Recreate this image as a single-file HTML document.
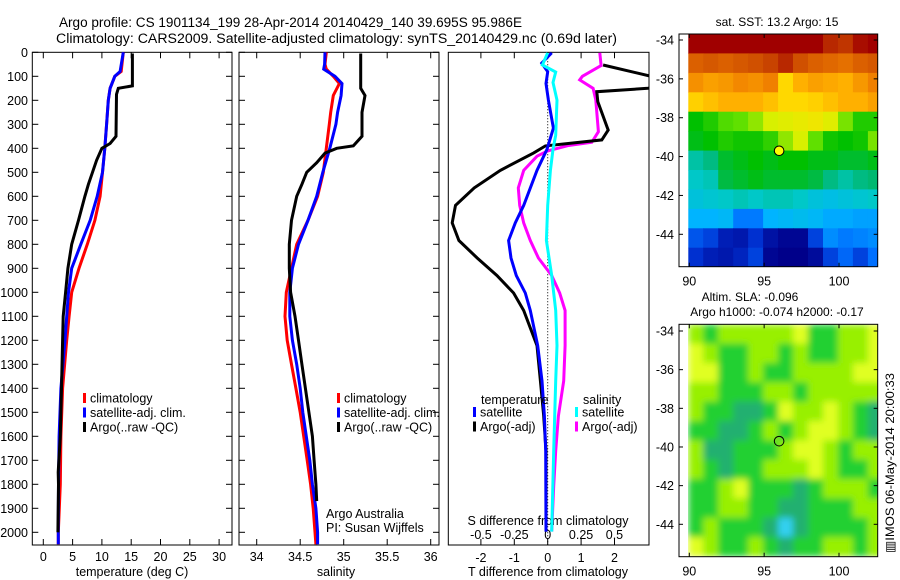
<!DOCTYPE html>
<html><head><meta charset="utf-8"><style>
html,body{margin:0;padding:0;background:#fff;}
svg{display:block;font-family:"Liberation Sans",sans-serif;}
</style></head><body>
<svg id="fig" width="900" height="580" viewBox="0 0 900 580" xmlns="http://www.w3.org/2000/svg">
<defs>
<clipPath id="c3"><rect x="448.3" y="52.3" width="200.7" height="492.7"/></clipPath>
<clipPath id="cm1"><rect x="687.7" y="34" width="190" height="232.7"/></clipPath>
<clipPath id="cm2"><rect x="687.7" y="324.3" width="190" height="232.4"/></clipPath>
<filter id="smooth" x="0" y="0" width="1" height="1" filterUnits="objectBoundingBox"><feGaussianBlur stdDeviation="3.5" edgeMode="duplicate"/></filter>
</defs>
<text x="59" y="27" font-size="13.5" textLength="463" lengthAdjust="spacingAndGlyphs">Argo profile: CS 1901134_199 28-Apr-2014 20140429_140 39.695S 95.986E</text>
<text x="56" y="43" font-size="13.5" textLength="561" lengthAdjust="spacingAndGlyphs">Climatology: CARS2009. Satellite-adjusted climatology: synTS_20140429.nc (0.69d later)</text>
<g id="g1"></g>
<g id="g2"></g>
<g id="g3"></g>
<g id="g4"></g>
<g id="g5"></g>
<text transform="translate(894,463) rotate(-90)" text-anchor="middle" font-size="12" textLength="180" lengthAdjust="spacingAndGlyphs">▥IMOS 06-May-2014 20:00:33</text>
</svg>
<script>
// ---- depth axis ----
const depthTicks = [0,100,200,300,400,500,600,700,800,900,1000,1100,1200,1300,1400,1500,1600,1700,1800,1900,2000];
// ---- temperature panel data ----
const tTicks = [0,5,10,15,20,25,30];
const climDepth = [0,80,100,150,200,300,400,500,600,700,800,900,1000,1100,1200,1400,1600,1800,2000,2050];
const tClim = [13.65,13.3,12.2,11.4,11.1,10.8,10.5,10.1,9.7,8.8,7.5,6.1,4.85,4.4,4.0,3.3,3.0,2.9,2.56,2.56];
const tSat = [13.65,13.1,12.2,11.4,11.1,10.8,10.5,10.1,9.2,8.0,6.4,4.85,4.3,4.0,3.7,3.0,2.7,2.6,2.56,2.56];
const tArgoDepth = [5,140,150,175,350,380,400,450,500,550,600,700,800,900,1000,1100,1200,1400,1600,1750,1800,2000];
const tArgo = [15.2,15.2,12.8,12.5,12.4,11.4,10.0,9.1,8.4,7.7,7.1,6.0,4.85,4.2,3.8,3.4,3.3,3.1,2.9,2.55,2.6,2.5];
// ---- salinity panel data ----
const sTicks = [34,34.5,35,35.5,36];
const sDepth = [0,50,70,100,130,180,250,300,400,500,600,700,800,900,1000,1100,1200,1300,1400,1500,1600,1700,1800,1900,2000,2050];
const sClim = [34.80,34.785,34.80,34.88,34.95,34.88,34.85,34.835,34.80,34.765,34.70,34.59,34.46,34.40,34.34,34.325,34.35,34.40,34.45,34.50,34.54,34.58,34.62,34.65,34.67,34.68];
const sSat = [34.785,34.78,34.77,34.90,34.98,34.97,34.93,34.91,34.84,34.76,34.69,34.59,34.48,34.41,34.38,34.38,34.41,34.46,34.50,34.53,34.57,34.61,34.64,34.68,34.70,34.70];
const sArgoDepth = [5,150,180,250,350,390,400,420,460,500,550,600,700,800,900,1000,1100,1200,1300,1400,1500,1600,1700,1800,1870];
const sArgo = [35.195,35.195,35.245,35.21,35.21,35.11,34.92,34.785,34.69,34.575,34.52,34.46,34.40,34.375,34.375,34.39,34.44,34.48,34.52,34.56,34.60,34.64,34.66,34.68,34.69];
// ---- difference panel data ----
const dtTicks = [-2,-1,0,1,2];
const dsTicks = [-0.5,-0.25,0,0.25,0.5];
const dsTickLabels = ["-0.5","-0.25","0","0.25","0.5"];
const dtSatDepth = [2,45,81,130,199,316,404,492,638,711,784,857,930,1003,1076,1222,1369,1515,1661,1997];
const dtSat = [0.12,-0.18,0.0,-0.05,0.02,0.17,-0.02,-0.32,-0.72,-0.97,-1.17,-1.1,-0.94,-0.67,-0.52,-0.3,-0.17,-0.1,-0.06,-0.05];
const dtArgoDepth = [53,100,140,150,164,206,324,365,390,419,492,565,638,711,784,857,930,1003,1076,1222,1369,1515,1661,1997];
const dtArgo = [1.66,3.1,3.6,3.0,1.47,1.5,1.81,1.62,-0.07,-0.42,-1.42,-2.2,-2.76,-2.86,-2.66,-2.11,-1.52,-1.02,-0.72,-0.32,-0.22,-0.12,-0.05,-0.05];
const dsSatDepth = [2,53,82,126,199,345,404,492,638,784,930,1076,1222,1369,1661,1997];
const dsSat = [0,-0.04,0.06,0.04,0.07,0.06,0.04,0.02,0,-0.01,0.03,0.06,0.07,0.06,0.045,0.03];
const dsArgoDepth = [2,55,100,115,150,199,331,375,389,411,433,492,565,638,711,784,857,930,1003,1076,1222,1369,1515,1661,1807,1997];
const dsArgo = [0.39,0.40,0.26,0.24,0.34,0.36,0.38,0.33,0.15,0,-0.08,-0.18,-0.22,-0.21,-0.18,-0.13,-0.07,0.03,0.09,0.13,0.13,0.12,0.08,0.06,0.045,0.03];
// ---- maps ----
const lonTicks = [90,95,100];
const latTicks = [-34,-36,-38,-40,-42,-44];
const argoLon = 96.0, argoLat = -39.7;
const sstGrid = [
[15.8,15.8,15.8,15.8,15.8,15.8,15.8,15.8,15.8,15.5,15.4,15.7,15.8],
[15.0,15.1,15.0,15.1,15.2,15.3,15.5,15.2,15.0,14.9,14.8,15.0,15.1],
[14.4,14.2,14.3,14.5,14.4,14.6,13.5,14.0,14.2,14.1,14.0,14.3,14.6],
[13.6,13.8,14.0,14.0,14.0,13.8,13.5,13.5,13.6,13.8,14.0,14.0,14.2],
[11.8,12.0,12.3,12.4,12.6,12.9,13.0,13.1,13.2,13.0,12.5,12.0,12.0],
[11.7,11.8,12.0,11.9,11.9,12.1,12.6,12.9,12.4,11.9,11.8,11.9,12.5],
[11.0,11.2,11.6,11.7,11.8,11.7,11.8,11.8,11.7,11.7,11.6,11.6,11.7],
[10.8,10.9,11.5,11.6,11.7,11.6,11.6,11.6,11.5,11.2,11.0,11.2,11.3],
[10.6,10.7,10.8,10.9,10.8,10.9,10.9,10.8,10.6,10.5,10.6,10.7,10.8],
[10.2,10.2,10.3,9.6,9.6,10.2,10.3,10.4,10.3,10.1,10.1,10.0,10.0],
[9.2,9.0,8.5,8.4,8.8,8.3,8.1,8.1,9.0,9.8,9.6,9.7,9.8],
[8.8,8.5,8.4,8.6,9.0,8.1,8.0,8.0,8.2,9.0,9.4,9.0,9.5]];
const slaCm = [
[1,-6,1,1,1,1,1,8,-6,-6,1,1,8],
[8,1,-6,-6,1,1,-6,1,-6,-6,1,1,8],
[8,8,-6,-6,1,-6,-6,1,1,1,1,8,8],
[1,1,-6,-6,-6,1,1,-6,1,1,1,1,1],
[1,-6,-6,-13,-13,-6,8,1,1,8,1,-6,-13],
[-6,-6,-13,-13,-6,1,-6,1,8,8,1,-6,-13],
[1,-13,-13,-6,-6,-6,1,8,8,1,-6,1,1],
[1,-6,-13,-6,-6,1,1,1,8,1,-6,-6,1],
[-6,-6,1,8,-6,-6,-6,-13,-6,1,1,1,-6],
[-6,-6,1,1,-6,-6,-13,-13,-6,-6,-6,1,1],
[-6,1,-6,-6,-6,-13,-20,-13,-6,-6,-6,-6,1],
[8,1,-6,-6,1,-6,-13,-6,-6,1,1,-6,1]];

const NS='http://www.w3.org/2000/svg';
function mk(parent,tag,attrs){const e=document.createElementNS(NS,tag);for(const k in attrs)e.setAttribute(k,attrs[k]);parent.appendChild(e);return e;}
const yD = d => 52.3 + d*0.24;
const xT = t => 43.3 + t*5.86;
const xS = s => 256.7 + (s-34)*87;
const xDT = t => 547.7 + t*33.4;
const xDS = s => 547.7 + s*133.5;
const TOP=52.3, BOT=545;

function box(g,x0,x1,name){const r=mk(g,'rect',{x:x0,y:TOP,width:x1-x0,height:BOT-TOP,fill:'none',stroke:'#000','stroke-width':1});}
function line(g,xs,ds,xf,color,name,clip){
  const pts=xs.map((v,i)=>xf(v).toFixed(1)+','+yD(ds[i]).toFixed(1)).join(' ');
  const p=mk(g,'polyline',{points:pts,fill:'none',stroke:color,'stroke-width':3,'stroke-linejoin':'miter'});
  if(clip)p.setAttribute('clip-path','url(#'+clip+')');
  
}
function txt(g,x,y,s,size,anchor,name){const t=mk(g,'text',{x:x,y:y,'font-size':size,'text-anchor':anchor||'start'});t.textContent=s;return t;}
function yTicks(g,x0,x1,left,right){depthTicks.forEach(d=>{const y=yD(d);
  if(left)mk(g,'line',{x1:x0,x2:x0+6,y1:y,y2:y,stroke:'#000'});
  if(right)mk(g,'line',{x1:x1-6,x2:x1,y1:y,y2:y,stroke:'#000'});});}
function xTicks(g,vals,f){vals.forEach(v=>{const x=f(v);mk(g,'line',{x1:x,x2:x,y1:TOP,y2:TOP+6,stroke:'#000'});mk(g,'line',{x1:x,x2:x,y1:BOT-6,y2:BOT,stroke:'#000'});});}
function legend(g,x,y,items){items.forEach((it,i)=>{const yy=y+i*14.5;mk(g,'rect',{x:x,y:yy-5,width:3,height:10,fill:it[1]});txt(g,x+7,yy+4.5,it[0],12.5,'start','legend-entry');});}

// Panel 1
const g1=document.getElementById('g1');
box(g1,32.3,232,'temperature-axes-box');
yTicks(g1,32.3,232,true,true);xTicks(g1,tTicks,xT);
depthTicks.forEach(d=>txt(g1,28,yD(d)+4.5,String(d),12.5,'end','depth-tick-label'));
tTicks.forEach(t=>txt(g1,xT(t),561,String(t),12.5,'middle','temperature-tick-label'));
txt(g1,132,576,'temperature (deg C)',12.5,'middle','x-axis-title');
line(g1,tClim,climDepth,xT,'#ff0000','temperature-climatology-line');
line(g1,tSat,climDepth,xT,'#0000ff','temperature-satellite-line');
line(g1,tArgo,tArgoDepth,xT,'#000000','temperature-argo-line');
legend(g1,83,398,[['climatology','#ff0000'],['satellite-adj. clim.','#0000ff'],['Argo(..raw -QC)','#000000']]);

// Panel 2
const g2=document.getElementById('g2');
box(g2,239,439,'salinity-axes-box');
yTicks(g2,239,439,true,true);xTicks(g2,sTicks,xS);
sTicks.forEach(s=>txt(g2,xS(s),561,String(s),12.5,'middle','salinity-tick-label'));
txt(g2,336,576,'salinity',12.5,'middle','x-axis-title');
line(g2,sClim,sDepth,xS,'#ff0000','salinity-climatology-line');
line(g2,sSat,sDepth,xS,'#0000ff','salinity-satellite-line');
line(g2,sArgo,sArgoDepth,xS,'#000000','salinity-argo-line');
legend(g2,337,398,[['climatology','#ff0000'],['satellite-adj. clim.','#0000ff'],['Argo(..raw -QC)','#000000']]);
txt(g2,326,518,'Argo Australia',12.5,'start','institution-label');
txt(g2,326,532,'PI: Susan Wijffels',12.5,'start','pi-label');

// Panel 3
const g3=document.getElementById('g3');
box(g3,448.3,649,'difference-axes-box');
xTicks(g3,dtTicks,xDT);
mk(g3,'line',{x1:xDT(0),x2:xDT(0),y1:TOP,y2:BOT,stroke:'#000','stroke-dasharray':'1,2'});
dtTicks.forEach(t=>txt(g3,xDT(t),562,String(t),12.5,'middle','t-diff-tick-label'));
txt(g3,548,576,'T difference from climatology',12.5,'middle','t-diff-axis-title');
dsTicks.forEach((s,i)=>txt(g3,xDS(s),539,dsTickLabels[i],12.5,'middle','s-diff-tick-label'));
txt(g3,548,525,'S difference from climatology',12.5,'middle','s-diff-axis-title');
line(g3,dsArgo,dsArgoDepth,xDS,'#ff00ff','salinity-argo-diff-line','c3');
line(g3,dtArgo,dtArgoDepth,xDT,'#000000','temperature-argo-diff-line','c3');
line(g3,dtSat,dtSatDepth,xDT,'#0000ff','temperature-satellite-diff-line','c3');
line(g3,dsSat,dsSatDepth,xDS,'#00ffff','salinity-satellite-diff-line','c3');
txt(g3,481,404,'temperature',12.5,'start','legend-heading');
txt(g3,583,404,'salinity',12.5,'start','legend-heading');
legend(g3,473,412,[['satellite','#0000ff'],['Argo(-adj)','#000000']]);
legend(g3,575,412,[['satellite','#00ffff'],['Argo(-adj)','#ff00ff']]);

// maps
function hex(h){return [parseInt(h.slice(1,3),16),parseInt(h.slice(3,5),16),parseInt(h.slice(5,7),16)];}
function cmap(stops,v){if(v<=stops[0][0])return stops[0][1];for(let i=1;i<stops.length;i++){if(v<=stops[i][0]){const a=stops[i-1],b=stops[i],f=(v-a[0])/(b[0]-a[0]);const c1=hex(a[1]),c2=hex(b[1]);return 'rgb('+c1.map((c,k)=>Math.round(c+(c2[k]-c)*f)).join(',')+')';}}return stops[stops.length-1][1];}
const sstStops=[[8.0,'#00008a'],[8.8,'#0030d0'],[9.5,'#0070ff'],[10.2,'#00b4ff'],[10.8,'#00c8c8'],[11.3,'#00b870'],[11.8,'#00c000'],[12.4,'#60e000'],[12.9,'#d8f000'],[13.4,'#ffe000'],[14.0,'#ffb000'],[14.6,'#f08000'],[15.2,'#d05000'],[15.8,'#a00000']];
const slaStops=[[-20,'#30d0f0'],[-13,'#20b070'],[-6,'#20d030'],[1,'#98f000'],[8,'#e0ff20']];
const mX = lon => 689.3 + (lon-90)*14.97;
function drawMap(g,top,bot,lat34,latScale,grid,stops,clip,fillCircle,prefix,smooth){
  const mY = lat => lat34 + (-34-lat)*latScale;
  const lon0=89.93;
  const latTop=-34 + (lat34-top)/latScale;
  const outer=mk(g,'g',{'clip-path':'url(#'+clip+')'});
  const cg=smooth?mk(outer,'g',{filter:'url(#smooth)'}):outer;
  grid.forEach((row,r)=>row.forEach((v,c)=>{
    const x=mX(lon0+c), y=mY(latTop-r);
    const cell=mk(cg,'rect',{x:x.toFixed(1),y:y.toFixed(1),width:15.5,height:(latScale+0.5).toFixed(1),fill:cmap(stops,v)});
    
    
  }));
  const b=mk(g,'rect',{x:679,y:top,width:198.7,height:bot-top,fill:'none',stroke:'#000'});
  
  lonTicks.forEach(l=>{const x=mX(l);mk(g,'line',{x1:x,x2:x,y1:top,y2:top+4,stroke:'#000'});mk(g,'line',{x1:x,x2:x,y1:bot-4,y2:bot,stroke:'#000'});txt(g,x,bot+19,String(l),12.5,'middle',prefix+'-lon-label');});
  latTicks.forEach(l=>{const y=mY(l);mk(g,'line',{x1:679,x2:683,y1:y,y2:y,stroke:'#000'});mk(g,'line',{x1:873.7,x2:877.7,y1:y,y2:y,stroke:'#000'});txt(g,674,y+4.5,String(l),12.5,'end',prefix+'-lat-label');});
  const c=mk(g,'circle',{cx:mX(argoLon),cy:mY(argoLat),r:4.8,fill:fillCircle,stroke:'#000','stroke-width':1});
  
}
const g4=document.getElementById('g4');
drawMap(g4,34,266.7,40,19.43,sstGrid,sstStops,'cm1','#ffff00','sst-map',false);
txt(g4,777,26,'sat. SST: 13.2 Argo: 15',12,'middle','sst-map-title');
const g5=document.getElementById('g5');
drawMap(g5,324.3,556.7,331,19.33,slaCm,slaStops,'cm2','none','sla-map',true);
txt(g5,750,301,'Altim. SLA: -0.096',12,'middle','sla-map-title');
txt(g5,777,316,'Argo h1000: -0.074 h2000: -0.17',12,'middle','sla-map-subtitle');
</script>
</body></html>
